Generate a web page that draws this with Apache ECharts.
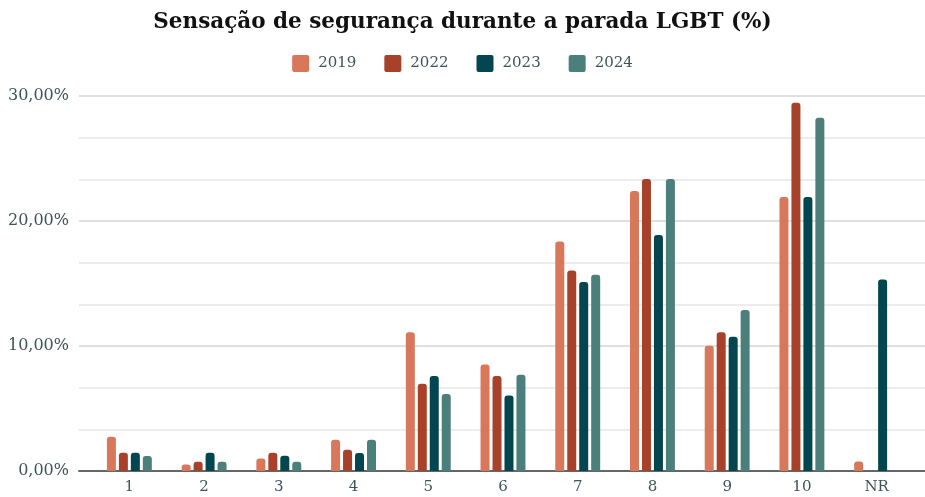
<!DOCTYPE html>
<html><head><meta charset="utf-8">
<script src="https://cdn.jsdelivr.net/npm/echarts@6/dist/echarts.min.js"></script>
<style>html,body{margin:0;padding:0;background:#fff}#c{width:925px;height:497px}</style>
</head><body><div id="c"></div>
<script>
const categories = ['1','2','3','4','5','6','7','8','9','10','NR'];
const seriesNames = ['2019','2022','2023','2024'];
const v2019 = [2.74, 0.53, 1.0, 2.5, 11.1, 8.53, 18.37, 22.4, 10.03, 21.92, 0.77];
const v2022 = [1.47, 0.75, 1.47, 1.7, 6.99, 7.6, 16.05, 23.36, 11.1, 29.47, null];
const v2023 = [1.47, 1.47, 1.23, 1.45, 7.6, 6.05, 15.12, 18.88, 10.75, 21.92, 15.33];
const v2024 = [1.2, 0.75, 0.75, 2.5, 6.16, 7.71, 15.71, 23.36, 12.88, 28.27, null];
const yTicks = [0, 10, 20, 30];
const colors = ['#d9775b', '#a8412a', '#03464f', '#4a7f7b'];
const font = 'DejaVu Serif';
const txt = '#3d5556';
const allVals = [v2019, v2022, v2023, v2024];
const chart = echarts.init(document.getElementById('c'));
chart.setOption({
  animation: false,
  color: colors,
  title: {text: 'Sensação de segurança durante a parada LGBT (%)', left: 'center', top: 6,
    textStyle: {fontFamily: font, fontWeight: 'bold', fontSize: 21.5, color: '#111'}},
  legend: {data: seriesNames, top: 50, left: 'center', itemWidth: 17, itemHeight: 17, itemGap: 28,
    icon: 'path://M2,0 L15,0 Q17,0 17,2 L17,15 Q17,17 15,17 L2,17 Q0,17 0,15 L0,2 Q0,0 2,0 Z',
    textStyle: {fontFamily: font, fontSize: 15, color: txt, padding: [0,0,0,4]}},
  grid: [
    {left: 79, right: 0, top: 96, bottom: 26, containLabel: false},
    {left: 92, right: 11, top: 96, bottom: 26, containLabel: false}
  ],
  xAxis: [
    {type: 'value', gridIndex: 0, min: 0, max: 1, show: true,
      axisLine: {show: true, onZero: false, lineStyle: {color: '#666', width: 2}},
      axisTick: {show: false}, axisLabel: {show: false}, splitLine: {show: false}},
    {type: 'category', gridIndex: 1, data: categories,
      axisLine: {show: false}, axisTick: {show: false},
      axisLabel: {fontFamily: font, fontSize: 15, color: txt, margin: 9}}
  ],
  yAxis: [
    {type: 'value', gridIndex: 0, min: yTicks[0], max: yTicks[yTicks.length-1], interval: 10,
      axisLine: {show: false}, axisTick: {show: false},
      axisLabel: {fontFamily: font, fontSize: 16, color: txt, margin: 10,
        formatter: v => v.toFixed(2).replace('.', ',') + '%'},
      splitLine: {lineStyle: {color: '#d4d4d4', width: 1.5}},
      minorTick: {show: false, splitNumber: 3},
      minorSplitLine: {show: true, lineStyle: {color: '#e6e6e6', width: 1.5}}},
    {type: 'value', gridIndex: 1, min: 0, max: 30, show: false, splitLine: {show: false}}
  ],
  series: seriesNames.map((n, i) => ({
    name: n, type: 'bar', xAxisIndex: 1, yAxisIndex: 1, data: allVals[i],
    barWidth: 9, barGap: '33%',
    itemStyle: {color: colors[i], borderRadius: [3,3,0,0]}
  }))
});
</script></body></html>
